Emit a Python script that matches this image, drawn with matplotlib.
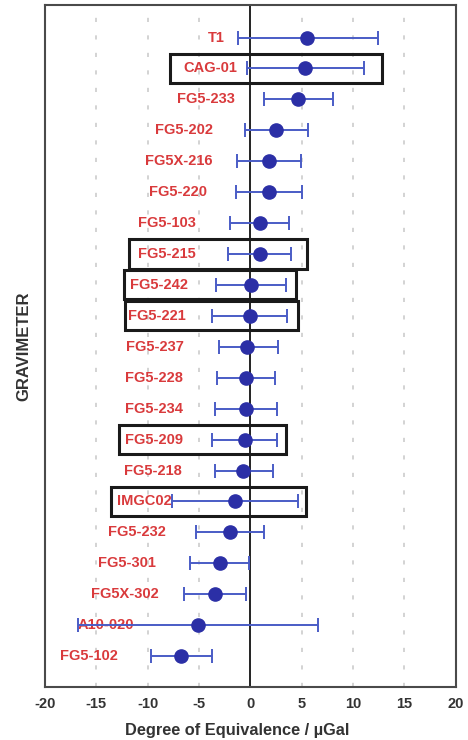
import matplotlib
matplotlib.use("Agg")
import matplotlib.pyplot as plt
from matplotlib.patches import Rectangle

# gravimeters from top to bottom
names = ["T1", "CAG-01", "FG5-233", "FG5-202", "FG5X-216", "FG5-220", "FG5-103",
         "FG5-215", "FG5-242", "FG5-221", "FG5-237", "FG5-228", "FG5-234",
         "FG5-209", "FG5-218", "IMGC02", "FG5-232", "FG5-301", "FG5X-302",
         "A10-020", "FG5-102"]
doe = [5.5, 5.3, 4.6, 2.5, 1.8, 1.8, 0.9, 0.9, 0.1, 0.0, -0.3, -0.4, -0.4,
       -0.5, -0.7, -1.5, -2.0, -3.0, -3.4, -5.1, -6.8]
err_low = [-1.2, -0.3, 1.35, -0.55, -1.3, -1.4, -2.0, -2.2, -3.35, -3.7, -3.1,
           -3.25, -3.45, -3.7, -3.45, -7.6, -5.3, -5.9, -6.45, -16.8, -9.7]
err_high = [12.4, 11.1, 8.0, 5.65, 4.9, 5.0, 3.8, 4.0, 3.45, 3.55, 2.7, 2.4,
            2.55, 2.6, 2.2, 4.6, 1.3, -0.15, -0.4, 6.6, -3.75]

# gravimeters drawn with a frame around them
boxed = ["CAG-01", "FG5-215", "FG5-242", "FG5-221", "FG5-209", "IMGC02"]

# layout: right edge of each label, and frame extents (in x units)
label_right = [-2.5, -1.25, -1.5, -3.6, -3.7, -4.2, -5.3, -5.3, -6.05, -6.3,
               -6.45, -6.55, -6.55, -6.6, -6.7, -7.65, -8.2, -9.2, -8.9,
               -11.3, -12.9]
box_left = [-7.8, -11.8, -12.3, -12.25, -12.8, -13.6]
box_right = [12.8, 5.5, 4.4, 4.65, 3.5, 5.45]

plt.rcParams["font.family"] = ["Liberation Sans", "DejaVu Sans"]
plt.rcParams["font.weight"] = "bold"
plt.rcParams["axes.unicode_minus"] = False

fig = plt.figure(figsize=(4.68, 7.40), dpi=100)
ax = fig.add_axes([0.096, 0.0716, 0.878, 0.9216])

y = list(range(len(names)))
xerr = [[d - lo for d, lo in zip(doe, err_low)],
        [hi - d for d, hi in zip(doe, err_high)]]

for gx in [-15, -10, -5, 5, 10, 15]:
    ax.axvline(gx, color="#cccccc", linestyle=(0, (2.5, 8)), linewidth=1.2, zorder=0)
ax.axvline(0, color="#222222", linewidth=1.4, zorder=1)

ax.errorbar(doe, y, xerr=xerr, fmt="o", color="#2b2fa6", markersize=9.5,
            ecolor="#4a5cc6", elinewidth=1.4, capsize=5, capthick=1.4, zorder=3)

for yi, name, lx in zip(y, names, label_right):
    ax.text(lx, yi, name, ha="right", va="center", color="#d93a3c",
            fontsize=10.5, fontweight="bold", zorder=2)

for name, bl, br in zip(boxed, box_left, box_right):
    yi = names.index(name)
    ax.add_patch(Rectangle((bl, yi - 0.47), br - bl, 0.94, fill=False,
                           edgecolor="#1a1a1a", linewidth=2.2, zorder=4))

ax.set_xlim(-20, 20)
ax.set_ylim(len(names), -1.05)
ax.set_xticks(range(-20, 21, 5))
ax.set_yticks([])
ax.tick_params(axis="x", length=0, pad=7, labelsize=10.5, colors="#333333")
for lbl in ax.get_xticklabels():
    lbl.set_fontweight("bold")
for sp in ax.spines.values():
    sp.set_color("#4a4a4a")
    sp.set_linewidth(1.5)

ax.set_xlabel("Degree of Equivalence / \u00b5Gal", fontsize=11.8,
              fontweight="bold", color="#333333")
ax.xaxis.set_label_coords(0.469, -0.053)
ax.set_ylabel("GRAVIMETER", fontsize=12, fontweight="bold",
              color="#333333", labelpad=10)

fig.savefig("out.png", dpi=100)
